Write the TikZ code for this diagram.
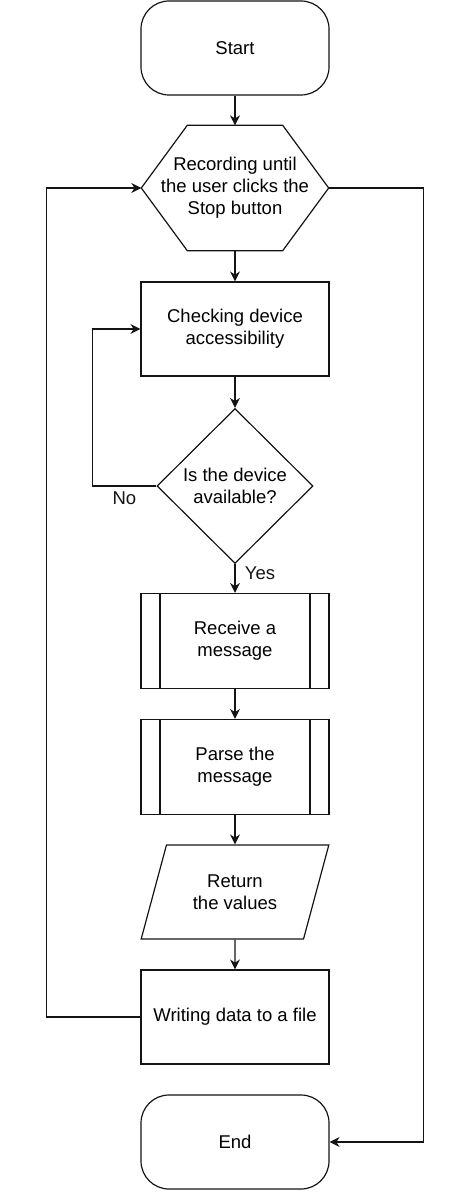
\documentclass[tikz,border=0pt]{standalone}
\usepackage{fontspec}
\setmainfont{Liberation Sans}
\usetikzlibrary{arrows.meta, shapes.geometric, calc}
\definecolor{LineColor}{RGB}{20,20,20}
\tikzstyle{terminal} = [rectangle, rounded corners=28pt, minimum width=188pt, minimum height=94pt, draw=LineColor, line width=1.2pt, align=center]
\tikzstyle{process} = [rectangle, minimum width=188pt, minimum height=94pt, draw=LineColor, line width=1.2pt, align=center]
\tikzstyle{subprocess} = [process, minimum height=95pt, path picture={
        \draw[line width=1.2pt, LineColor] ([xshift=19pt]path picture bounding box.north west) -- ([xshift=19pt]path picture bounding box.south west);
        \draw[line width=1.2pt, LineColor] ([xshift=-19pt]path picture bounding box.north east) -- ([xshift=-19pt]path picture bounding box.south east);
    }]
\tikzstyle{decision} = [diamond, minimum width=156pt, minimum height=155pt, inner sep=0pt, draw=LineColor, line width=1.2pt, align=center]
\tikzstyle{io} = [trapezium, trapezium left angle=68, trapezium right angle=112, trapezium stretches=true, minimum width=188pt, minimum height=94pt, draw=LineColor, line width=1.2pt, align=center]
\tikzstyle{hexbox} = [rectangle, minimum width=187pt, minimum height=125pt, align=center]
\tikzstyle{line} = [line width=1.2pt, LineColor]
\tikzstyle{arrow} = [line width=1.2pt, LineColor, -{Stealth[length=10pt, width=10pt]}]

\begin{document}
\begin{tikzpicture}[x=1pt, y=-1pt, font=\fontsize{18.5}{22}\selectfont]
    \useasboundingbox (0,0) rectangle (474,1201);

    % Main column
    \node[terminal] (start) at (235,48) {Start};
    \node[hexbox] (rec) at (235,188) {Recording until\\the user clicks the\\Stop button};
    \draw[line] (rec.west) -- ([xshift=46pt]rec.north west) -- ([xshift=-46pt]rec.north east) -- (rec.east)
        -- ([xshift=-46pt]rec.south east) -- ([xshift=46pt]rec.south west) -- cycle;
    \node[process] (check) at (235,329) {Checking device\\accessibility};
    \node[decision] (avail) at (235,486) {Is the device\\available?};
    \node[subprocess] (recv) at (235,641) {Receive a\\message};
    \node[subprocess] (parse) at (235,767) {Parse the\\message};
    \node[io] (ret) at (235,892) {Return\\the values};
    \node[process] (write) at (235,1017) {Writing data to a file};
    \node[terminal] (end) at (235,1142) {End};

    % Flow
    \draw[arrow] (start) -- (rec);
    \draw[arrow] (rec) -- (check);
    \draw[arrow] (check) -- (avail);
    \draw[arrow] (avail) -- node[pos=0.3, right=6pt] {Yes} (recv);
    \draw[arrow] (recv) -- (parse);
    \draw[arrow] (parse) -- (ret);
    \draw[arrow] (ret) -- (write);

    % Loops
    \draw[arrow] (avail.west) -- node[below=2pt] {No} ++(-64,0) |- (check.west);
    \draw[arrow] (write.west) -- ++(-94,0) |- (rec.west);
    \draw[arrow] (rec.east) -- ++(95,0) |- (end.east);
\end{tikzpicture}
\end{document}
